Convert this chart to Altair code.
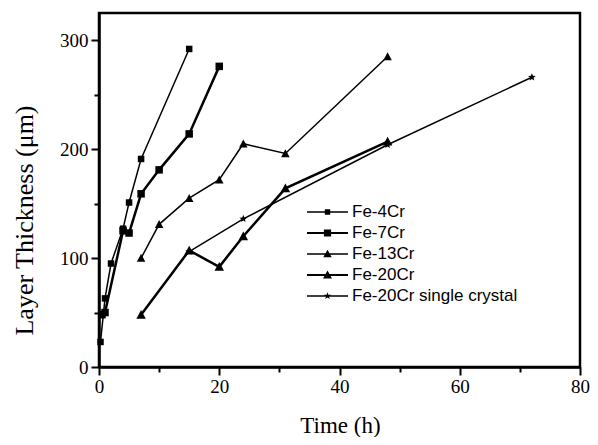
import math
import altair as alt
import pandas as pd

series = ["Fe-4Cr", "Fe-7Cr", "Fe-13Cr", "Fe-20Cr", "Fe-20Cr single crystal"]
thick_series = ["Fe-7Cr", "Fe-20Cr"]

fe4_t = [0.25, 1, 2, 4, 5, 7, 15]
fe4_v = [23, 63, 95, 127, 151, 191, 292]
fe7_t = [0.5, 1, 4, 5, 7, 10, 15, 20]
fe7_v = [48, 50, 125, 123, 159, 181, 214, 276]
fe13_t = [7, 10, 15, 20, 24, 31, 48]
fe13_v = [100, 131, 155, 172, 205, 196, 285]
fe20_t = [7, 15, 20, 24, 31, 48]
fe20_v = [48, 107, 92, 120, 164, 207]
sc_t = [15, 24, 48, 72]
sc_v = [106, 136, 204, 266]

x_ticks = list(range(0, 81, 10))
y_ticks = list(range(0, 301, 50))

data_sets = [
    ("Fe-20Cr single crystal", sc_t, sc_v),
    ("Fe-4Cr", fe4_t, fe4_v),
    ("Fe-7Cr", fe7_t, fe7_v),
    ("Fe-13Cr", fe13_t, fe13_v),
    ("Fe-20Cr", fe20_t, fe20_v),
]
rows = []
for name, ts, vs in data_sets:
    for t, v in zip(ts, vs):
        rows.append({"s": name, "t": t, "v": v})
df = pd.DataFrame(rows)


# ---- shape paths ----
def sq(h):
    return f"M{-h},{-h}H{h}V{h}H{-h}Z"


def tri(w, top, bot):
    return f"M0,{-top}L{w},{bot}H{-w}Z"


def star(r_out, r_in):
    pts = []
    for k in range(10):
        ang = math.radians(-90 + 36 * k)
        r = r_out if k % 2 == 0 else r_in
        pts.append(f"{r * math.cos(ang):.3f},{r * math.sin(ang):.3f}")
    return "M" + "L".join(pts) + "Z"


def bar(h):
    return f"M-2.05,{-h}H2.05V{h}H-2.05Z"


# plot markers (size 100 -> 5 px per unit)
plot_shapes = [sq(0.65), sq(0.75), tri(0.85, 0.85, 0.75), tri(0.95, 0.95, 0.8), star(0.8, 0.35)]
# legend symbols (size 400 -> 10 px per unit)
leg_shapes = [
    bar(0.075) + " " + sq(0.27),
    bar(0.11) + " " + sq(0.36),
    bar(0.075) + " " + tri(0.42, 0.42, 0.32),
    bar(0.11) + " " + tri(0.45, 0.45, 0.34),
    bar(0.075) + " " + star(0.38, 0.16),
]

serif = "Liberation Serif"

x_enc = alt.X(
    "t:Q",
    scale=alt.Scale(domain=[0, 80], nice=False),
    axis=alt.Axis(
        values=x_ticks,
        labelExpr="datum.value % 20 === 0 ? datum.label : ''",
        tickSize={"condition": {"test": "datum.value % 20 === 0", "value": 8}, "value": 5},
        labelPadding=2,
        title="Time (h)",
        titleFontSize=23,
        titleX=241,
        titleY=58,
        titleAlign="center",
        titleBaseline="middle",
    ),
)
y_enc = alt.Y(
    "v:Q",
    scale=alt.Scale(domain=[0, 325], nice=False),
    axis=alt.Axis(
        values=y_ticks,
        labelExpr="datum.value % 100 === 0 ? datum.label : ''",
        tickSize={"condition": {"test": "datum.value % 100 === 0", "value": 8}, "value": 5},
        labelPadding=3,
        title="Layer Thickness (μm)",
        titleFontSize=26,
        titleX=-75,
        titleY=207,
        titleAngle=270,
        titleAlign="center",
        titleBaseline="middle",
    ),
)

base = alt.Chart(df)

thin_lines = base.transform_filter(
    alt.FieldOneOfPredicate(field="s", oneOf=[s for s in series if s not in thick_series])
).mark_line(color="black", strokeWidth=1.5).encode(x=x_enc, y=y_enc, detail="s:N", order="t:Q")

thick_lines = base.transform_filter(
    alt.FieldOneOfPredicate(field="s", oneOf=thick_series)
).mark_line(color="black", strokeWidth=2.5).encode(x=x_enc, y=y_enc, detail="s:N", order="t:Q")

points = base.mark_point(filled=True, color="black", opacity=1, size=100, strokeWidth=0).encode(
    x=x_enc,
    y=y_enc,
    shape=alt.Shape("s:N", scale=alt.Scale(domain=series, range=plot_shapes), legend=None),
)

legend_layer = base.mark_point(filled=True, color="black", opacity=0, size=400).encode(
    x=x_enc,
    y=y_enc,
    shape=alt.Shape(
        "s:N",
        scale=alt.Scale(domain=series, range=leg_shapes),
        legend=alt.Legend(
            title=None,
            orient="none",
            legendX=218.5,
            legendY=189,
            padding=0,
            symbolSize=400,
            symbolStrokeWidth=0,
            symbolFillColor="black",
            rowPadding=3,
            labelOffset=14.5,
            labelFont="Liberation Sans",
            labelFontSize=17,
            labelColor="black",
            labelLimit=400,
        ),
    ),
)

chart = (
    alt.layer(thin_lines, thick_lines, points, legend_layer)
    .resolve_scale(shape="independent")
    .properties(
        width=481,
        height=354,
        autosize=alt.AutoSizeParams(type="none"),
        padding={"left": 91, "top": 5, "right": 10, "bottom": 70},
        background="white",
    )
    .configure_view(stroke="black", strokeWidth=2.5)
    .configure_axis(
        labelFont=serif,
        labelFontSize=19,
        labelColor="black",
        labelFlush=False,
        labelOverlap=False,
        titleFont=serif,
        titleFontWeight="normal",
        titleColor="black",
        tickWidth=2,
        tickColor="black",
        domainColor="black",
        domainWidth=2.5,
        grid=False,
    )
)

chart.save("out.html", embed_options={"renderer": "svg", "actions": False})
